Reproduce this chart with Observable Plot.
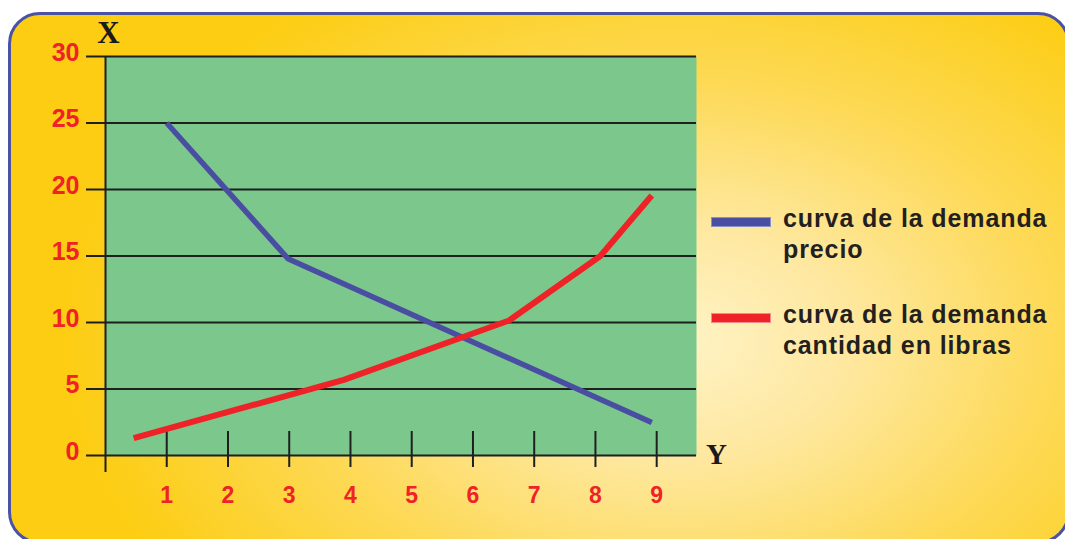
<!DOCTYPE html>
<html>
<head>
<meta charset="utf-8">
<script src="https://cdn.jsdelivr.net/npm/d3@7"></script>
<script src="https://cdn.jsdelivr.net/npm/@observablehq/plot@0.6"></script>
<style>
  html, body { margin: 0; padding: 0; width: 1065px; height: 539px; overflow: hidden; background: #ffffff; }
  #panel {
    position: absolute; left: 8px; top: 12px; width: 1062px; height: 532px;
    box-sizing: border-box; border: 3px solid #4a52a3; border-radius: 32px;
    background: radial-gradient(ellipse 58% 80% at 63% 62%, #fff3c6 0%, #fee8a0 28%, #fdd955 62%, #fccd12 100%);
  }
  #chart { position: absolute; left: 0; top: 0; }
  #chart svg { background: transparent; }
  .legend { position: absolute; left: 711px; font-family: "Liberation Sans", Arial, sans-serif; }
  .legend .sw { position: absolute; left: 0; width: 60px; height: 10px; box-sizing: border-box; }
  .legend .tx { position: absolute; left: 72px; width: 320px; font-size: 25px; line-height: 31px; font-weight: bold; color: #231f20; letter-spacing: 0.9px; white-space: nowrap; }
</style>
</head>
<body>
<div id="panel"></div>
<div id="chart"></div>
<div id="legend"></div>
<script>
// ---- data ----
const xTicks = [1, 2, 3, 4, 5, 6, 7, 8, 9];
const yTicks = [0, 5, 10, 15, 20, 25, 30];
const precioX = [1, 2.98, 8.92];
const precioY = [25, 14.8, 2.48];
const cantidadX = [0.46, 3.89, 6.59, 8.08, 8.92];
const cantidadY = [1.3, 5.69, 10.15, 15, 19.55];
const seriesNames = ["curva de la demanda\nprecio", "curva de la demanda\ncantidad en libras"];
const seriesColors = ["#4a4ea2", "#ee2227"];
const xAxisName = "Y";
const yAxisName = "X";

const precio = precioX.map((x, i) => ({x, y: precioY[i]}));
const cantidad = cantidadX.map((x, i) => ({x, y: cantidadY[i]}));

const red = "#ee2227";
const chart = Plot.plot({
  width: 1065,
  height: 539,
  marginLeft: 105,
  marginRight: 369,
  marginTop: 56,
  marginBottom: 84,
  style: {background: "transparent", fontFamily: "'Liberation Sans', Arial, sans-serif", overflow: "visible"},
  x: {domain: [0, 9.65], axis: null, label: null},
  y: {domain: [0, 30], axis: null, label: null},
  marks: [
    Plot.frame({fill: "#7bc78c", stroke: null}),
    // gridlines + left tick extensions
    Plot.ruleY(yTicks, {stroke: "#1f1f1f", strokeWidth: 2, insetLeft: -19}),
    // vertical axis line
    Plot.ruleX([0], {stroke: "#1f1f1f", strokeWidth: 2, insetBottom: -17}),
    // x tick marks crossing the axis
    Plot.axisX({ticks: xTicks, tickSize: 36, dy: -24, tickFormat: () => "", label: null, stroke: "#1f1f1f", strokeWidth: 2}),
    // x tick labels
    Plot.axisX({ticks: xTicks, tickSize: 0, tickPadding: 31, label: null, fontSize: 23, fontWeight: "bold", color: red, fill: red}),
    // y tick labels
    Plot.axisY({ticks: yTicks, tickSize: 0, tickPadding: 26, dy: -4, label: null, fontSize: 25, fontWeight: "bold", color: red, fill: red}),
    // data lines
    Plot.line(precio, {x: "x", y: "y", stroke: seriesColors[0], strokeWidth: 5.5, strokeLinecap: "butt", strokeLinejoin: "miter"}),
    Plot.line(cantidad, {x: "x", y: "y", stroke: seriesColors[1], strokeWidth: 6, strokeLinecap: "butt", strokeLinejoin: "miter"}),
    // axis names
    Plot.text([yAxisName], {frameAnchor: "top-left", text: d => d, dx: 3, dy: -14, lineAnchor: "bottom", textAnchor: "middle", fontSize: 31, fontWeight: "bold", fontFamily: "'Liberation Serif', 'Times New Roman', serif", fill: "#1a1a1a"}),
    Plot.text([xAxisName], {frameAnchor: "bottom-right", text: d => d, dx: 20, dy: 8, lineAnchor: "bottom", textAnchor: "middle", fontSize: 29, fontWeight: "bold", fontFamily: "'Liberation Serif', 'Times New Roman', serif", fill: "#1a1a1a"})
  ]
});
document.getElementById("chart").appendChild(chart);

// legend
const legend = document.getElementById("legend");
const tops = [203, 299];
seriesNames.forEach((name, i) => {
  const g = document.createElement("div");
  g.className = "legend";
  g.style.top = tops[i] + "px";
  const sw = document.createElement("div");
  sw.className = "sw";
  sw.style.top = "14px";
  sw.style.background = seriesColors[i];
  sw.style.border = "1px solid " + (i === 0 ? "#8c90c8" : "#f58a8c");
  const tx = document.createElement("div");
  tx.className = "tx";
  tx.style.top = "0px";
  tx.innerHTML = name.split("\n").join("<br>");
  g.appendChild(sw);
  g.appendChild(tx);
  legend.appendChild(g);
});
</script>
</body>
</html>
